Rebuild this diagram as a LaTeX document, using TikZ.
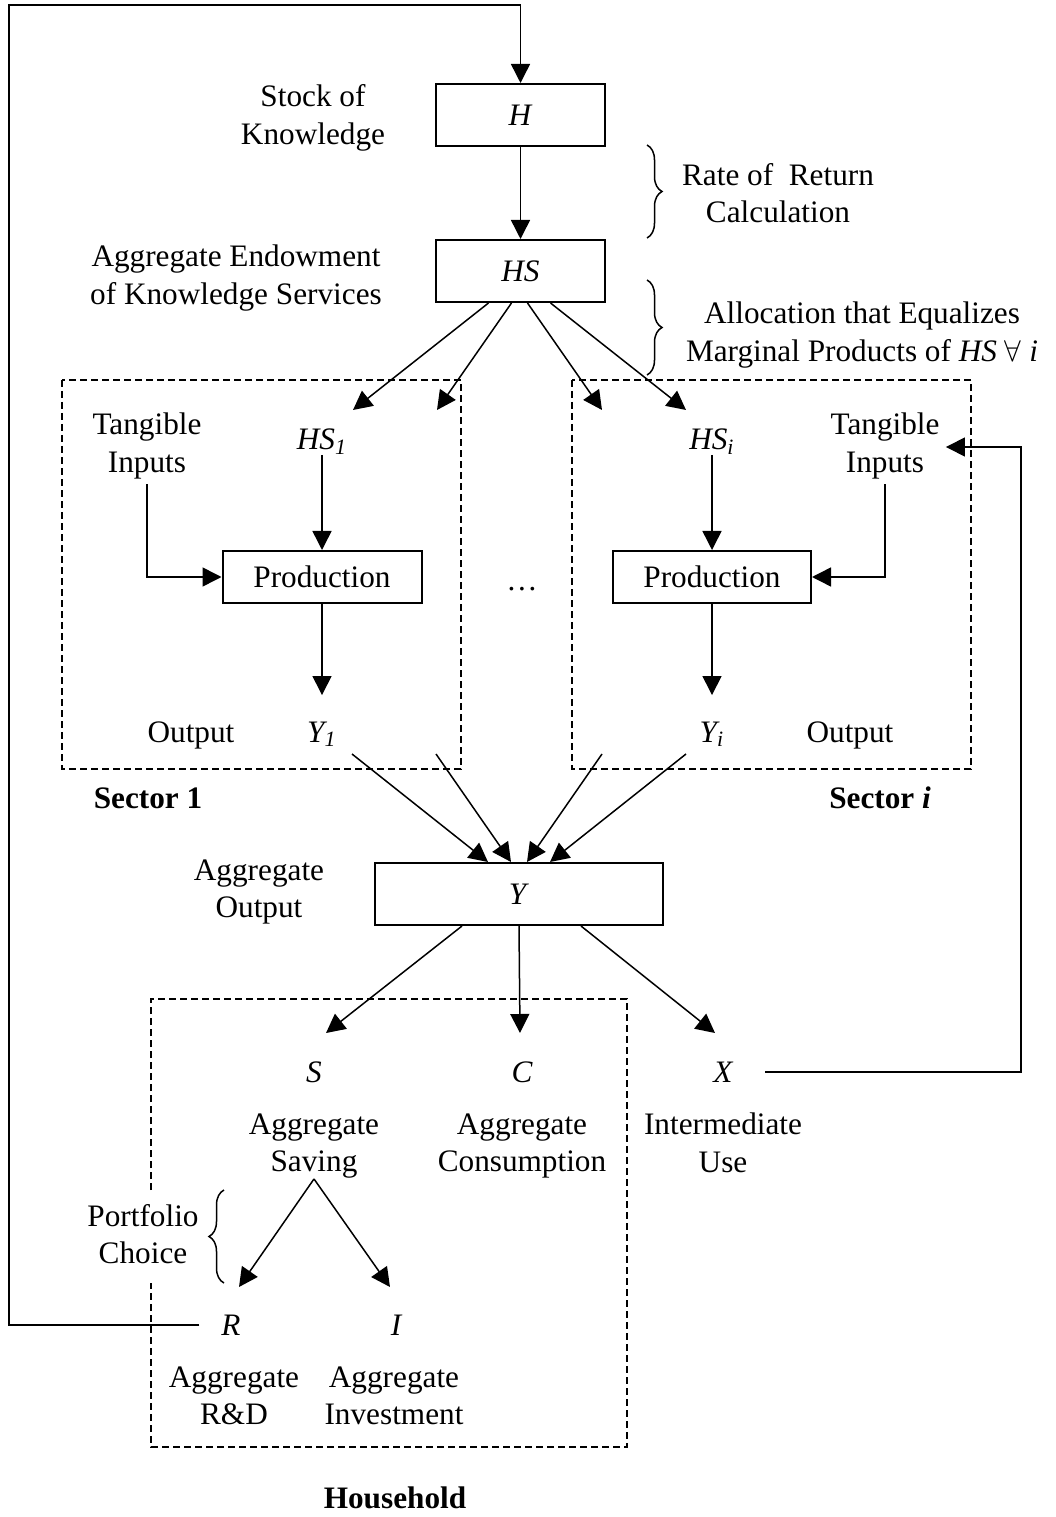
\documentclass[tikz,border=0pt]{standalone}
\usepackage{fontspec}
\setmainfont{Liberation Serif}
\usepackage{tikz}
\usetikzlibrary{arrows.meta}
\usetikzlibrary{decorations.pathreplacing}

\tikzset{
  box/.style={draw, line width=0.8pt, inner sep=0pt, minimum height=24.8pt},
  lbl/.style={inner sep=0pt, align=center},
  var/.style={inner sep=0pt, font=\itshape},
  arr/.style={-{Triangle[length=7.6pt,width=7.6pt]}, line width=0.6pt},
  dashbox/.style={dash pattern=on 2.8pt off 1.6pt, line width=0.6pt},
  curly/.style={decorate, decoration={brace, amplitude=6pt}, line width=0.6pt}
}

\begin{document}
\begin{tikzpicture}[x=0.4pt, y=-0.4pt]
\fontsize{12.5pt}{15pt}\selectfont
\useasboundingbox (0,0) rectangle (1055,1517);

% knowledge
\node[box, minimum width=67.6pt] (h) at (520.5,115) {\textit{H}};
\node[box, minimum width=67.6pt] (hs) at (520.5,271) {\textit{HS}};
\node[lbl] (stock) at (313,118) {Stock of\\Knowledge};
\node[lbl] (endow) at (236,278) {Aggregate Endowment\\of Knowledge Services};
\node[lbl] (rate) at (778,193) {Rate of\ \ Return\\Calculation};
\node[lbl] (alloc) at (862,335) {Allocation that Equalizes\\Marginal Products of \textit{HS} $\forall$ \textit{i}};
\draw[curly] (647,145) -- (647,238);
\draw[curly] (647,280) -- (647,375);

% sectors
\draw[dashbox] (62,380) rectangle (461,769);
\draw[dashbox] (572,380) rectangle (971,769);
\node[lbl] (tang1) at (147,446) {Tangible\\Inputs};
\node[var, anchor=base] (hs1) at (322,450) {HS\textsubscript{1}};
\node[box, minimum width=79.6pt, minimum height=20.8pt] (prod1) at (322,577) {Production};
\node[var, anchor=base] (y1) at (322,742) {Y\textsubscript{1}};
\node[lbl, anchor=base] (out1) at (191,742) {Output};
\node[lbl, anchor=base, font=\bfseries] (sec1) at (148,808) {Sector 1};
\node[lbl] (tangi) at (885,446) {Tangible\\Inputs};
\node[var, anchor=base] (hsi) at (712,450) {HS\textsubscript{i}};
\node[box, minimum width=79.2pt, minimum height=20.8pt] (prodi) at (712,577) {Production};
\node[var, anchor=base] (yi) at (712,742) {Y\textsubscript{i}};
\node[lbl, anchor=base] (outi) at (850,742) {Output};
\node[lbl, anchor=base, font=\bfseries] (seci) at (880,808) {Sector \textit{i}};
\node[lbl, anchor=base] (dots) at (522,590) {\dots};

\coordinate (a1) at (353,410);
\coordinate (a2) at (437,410);
\coordinate (a3) at (602,410);
\coordinate (a4) at (686,410);
\coordinate (b1) at (352,754);
\coordinate (b2) at (436,754);
\coordinate (b3) at (602,754);
\coordinate (b4) at (686,754);

\draw[arr] (h) -- (hs);
\draw[arr] ([xshift=-12.8pt]hs.south) -- (a1);
\draw[arr] ([xshift=-3.6pt]hs.south) -- (a2);
\draw[arr] ([xshift=2.8pt]hs.south) -- (a3);
\draw[arr] ([xshift=12pt]hs.south) -- (a4);
\draw[arr] (hs1) -- (prod1);
\draw[arr] ([yshift=-2pt]tang1.south) |- (prod1.west);
\draw[arr] (prod1) -- ([yshift=10.4pt]y1.north);
\draw[arr] (hsi) -- (prodi);
\draw[arr] ([yshift=-2pt]tangi.south) |- (prodi.east);
\draw[arr] (prodi) -- ([yshift=10.4pt]yi.north);

% aggregate output
\node[box, minimum width=115.2pt] (yagg) at (519,894) {\textit{Y}};
\node[lbl] (aggout) at (259,892) {Aggregate\\Output};
\draw[arr] (b1) -- ([xshift=-12.4pt]yagg.north);
\draw[arr] (b2) -- ([xshift=-3.2pt]yagg.north);
\draw[arr] (b3) -- ([xshift=3.2pt]yagg.north);
\draw[arr] (b4) -- ([xshift=12.4pt]yagg.north);

% household
\draw[dashbox] (151,1190) -- (151,999) -- (627,999) -- (627,1447) -- (151,1447) -- (151,1283);
\node[var, anchor=base] (svar) at (314,1082) {S};
\node[var, anchor=base] (cvar) at (522,1082) {C};
\node[var, anchor=base] (xvar) at (723,1082) {X};
\node[lbl] (saving) at (314,1146) {Aggregate\\Saving};
\node[lbl] (consum) at (522,1146) {Aggregate\\Consumption};
\node[lbl] (interm) at (723,1143) {Intermediate\\Use};
\node[lbl] (portf) at (143,1234) {Portfolio\\Choice};
\draw[curly] (224,1283) -- (224,1190);
\node[var, anchor=base] (rvar) at (231,1335) {R};
\node[var, anchor=base] (ivar) at (396,1335) {I};
\node[lbl] (rnd) at (234,1396) {Aggregate\\R\&D};
\node[lbl] (invest) at (394,1396) {Aggregate\\Investment};
\node[lbl, anchor=base, font=\bfseries] (house) at (395,1508) {Household};

\coordinate (stip) at (326,1033);
\coordinate (ctip) at (520,1033);
\coordinate (xtip) at (715,1033);
\coordinate (rtip) at (239,1287);
\coordinate (itip) at (390,1287);
\draw[arr] ([xshift=-22.8pt]yagg.south) -- (stip);
\draw[arr] (yagg.south) -- (ctip);
\draw[arr] ([xshift=24.8pt]yagg.south) -- (xtip);
\draw[arr] (saving.south) -- (rtip);
\draw[arr] (saving.south) -- (itip);

% feedback loops
\coordinate (xcorner) at (1021,447);
\coordinate (rcorner) at (9,5);
\draw[arr, shorten >=2.4pt] ([xshift=12.8pt]xvar.east) -| (xcorner) -- (xcorner -| tangi.east);
\draw[arr] ([xshift=-8.6pt]rvar.west) -| (rcorner) -| (h.north);
\end{tikzpicture}
\end{document}
